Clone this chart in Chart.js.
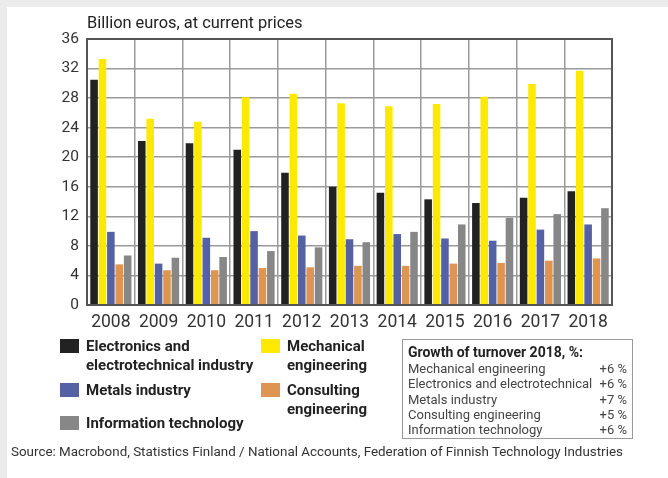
<!DOCTYPE html>
<html>
<head>
<meta charset="utf-8">
<script src="https://cdn.jsdelivr.net/npm/chart.js@4"></script>
<style>
  html, body { margin: 0; padding: 0; }
  body { width: 668px; height: 478px; background: #ebebeb; position: relative; overflow: hidden; font-family: Roboto, sans-serif; }
  #page { position: absolute; left: 7px; top: 7px; width: 661px; height: 471px; background: #fff; }
  #wrap { position: absolute; left: 0; top: 0; width: 668px; height: 340px; }
  #unit { position: absolute; left: 87px; top: 13px; font-size: 16.4px; color: #222; }
  .lg { position: absolute; font-weight: bold; font-size: 15px; line-height: 19px; color: #222; }
  .sw { position: absolute; width: 19px; height: 14px; }
  #growth { position: absolute; left: 402px; top: 339px; width: 229px; height: 98px; border: 1px solid #999; font-size: 13px; color: #444; }
  #growth .row { position: absolute; left: 5px; right: 5px; height: 15px; line-height: 15px; }
  #growth .row span { position: absolute; right: 0; }
  #src { position: absolute; left: 11px; top: 444px; font-size: 13.4px; color: #333; white-space: nowrap; }
</style>
</head>
<body>
<div id="page"></div>
<div id="wrap"><canvas id="turnoverChart" width="668" height="340"></canvas></div>
<div id="unit">Billion euros, at current prices</div>
<div id="legend"></div>
<div id="growth"></div>
<div id="src">Source: Macrobond, Statistics Finland / National Accounts, Federation of Finnish Technology Industries</div>
<script>
// データ
const years = ['2008','2009','2010','2011','2012','2013','2014','2015','2016','2017','2018'];
const electronics = [30.5, 22.2, 21.9, 21.0, 17.9, 16.0, 15.2, 14.3, 13.8, 14.5, 15.4];
const mechanical  = [33.3, 25.2, 24.8, 28.1, 28.6, 27.3, 26.9, 27.2, 28.2, 29.9, 31.7];
const metals      = [9.9, 5.6, 9.1, 10.0, 9.4, 8.9, 9.6, 9.0, 8.7, 10.2, 10.9];
const consulting  = [5.5, 4.7, 4.7, 5.0, 5.1, 5.3, 5.3, 5.6, 5.7, 6.0, 6.3];
const infotech    = [6.7, 6.4, 6.5, 7.3, 7.8, 8.5, 9.9, 10.9, 11.8, 12.3, 13.1];

const seriesNames = ['Electronics and electrotechnical industry', 'Mechanical engineering', 'Metals industry', 'Consulting engineering', 'Information technology'];
const seriesColors = ['#222222', '#ffe900', '#5462a5', '#de9551', '#878787'];

const growthLabels = ['Mechanical engineering', 'Electronics and electrotechnical', 'Metals industry', 'Consulting engineering', 'Information technology'];
const growthValues = ['+6 %', '+6 %', '+7 %', '+5 %', '+6 %'];

const yTicks = [0, 4, 8, 12, 16, 20, 24, 28, 32, 36];

// 枠線
const frame = {
  id: 'frame',
  afterDraw(chart) {
    const a = chart.chartArea, c = chart.ctx;
    c.save();
    c.strokeStyle = '#555';
    c.lineWidth = 2;
    c.strokeRect(a.left, a.top, a.right - a.left, a.bottom - a.top);
    c.restore();
  }
};

const ctx = document.getElementById('turnoverChart').getContext('2d');
const allSeries = [electronics, mechanical, metals, consulting, infotech];

const turnoverChart = new Chart(ctx, {
  type: 'bar',
  data: {
    labels: years,
    datasets: allSeries.map((d, i) => ({
      label: seriesNames[i],
      data: d,
      backgroundColor: seriesColors[i],
      borderWidth: 0,
      categoryPercentage: 0.88,
      barPercentage: 0.9
    }))
  },
  options: {
    responsive: false,
    animation: false,
    layout: { padding: { top: 39, right: 56, left: 0, bottom: 0 } },
    plugins: { legend: { display: false }, tooltip: { enabled: false } },
    scales: {
      x: {
        afterFit(s) { s.height = 35; },
        grid: { offset: true, color: '#9a9a9a', lineWidth: 1.5, drawTicks: false },
        border: { display: false },
        ticks: { color: '#333', font: { family: 'Roboto', size: 17.5 }, padding: 7 }
      },
      y: {
        min: 0, max: 36,
        afterFit(s) { s.width = 87; },
        grid: {
          color: c => (c.tick.value % 4 === 0 ? '#9a9a9a' : '#cfcfcf'),
          lineWidth: 1.5,
          drawTicks: false
        },
        border: { display: false },
        ticks: {
          stepSize: 2,
          color: '#333',
          padding: 8,
          font: { family: 'Roboto', size: 15.5 },
          callback: v => (yTicks.includes(v) ? v : '')
        }
      }
    }
  },
  plugins: [frame]
});

// 凡例
const legendPos = [
  { x: 60, y: 339, tx: 86, ty: 337, text: 'Electronics and<br>electrotechnical industry' },
  { x: 261, y: 339, tx: 287, ty: 337, text: 'Mechanical<br>engineering' },
  { x: 60, y: 383, tx: 86, ty: 381, text: 'Metals industry' },
  { x: 261, y: 383, tx: 287, ty: 381, text: 'Consulting<br>engineering' },
  { x: 60, y: 416, tx: 86, ty: 414, text: 'Information technology' }
];
const legend = document.getElementById('legend');
legendPos.forEach((p, i) => {
  legend.innerHTML += `<div class="sw" style="left:${p.x}px;top:${p.y}px;background:${seriesColors[i]}"></div>` +
    `<div class="lg" style="left:${p.tx}px;top:${p.ty}px">${p.text}</div>`;
});

const growth = document.getElementById('growth');
growth.innerHTML = '<div class="row" style="top:5px;font-weight:bold;font-size:14px;color:#222">Growth of turnover 2018, %:</div>' +
  growthLabels.map((l, i) => `<div class="row" style="top:${21 + i * 15.3}px">${l}<span>${growthValues[i]}</span></div>`).join('');
</script>
</body>
</html>
